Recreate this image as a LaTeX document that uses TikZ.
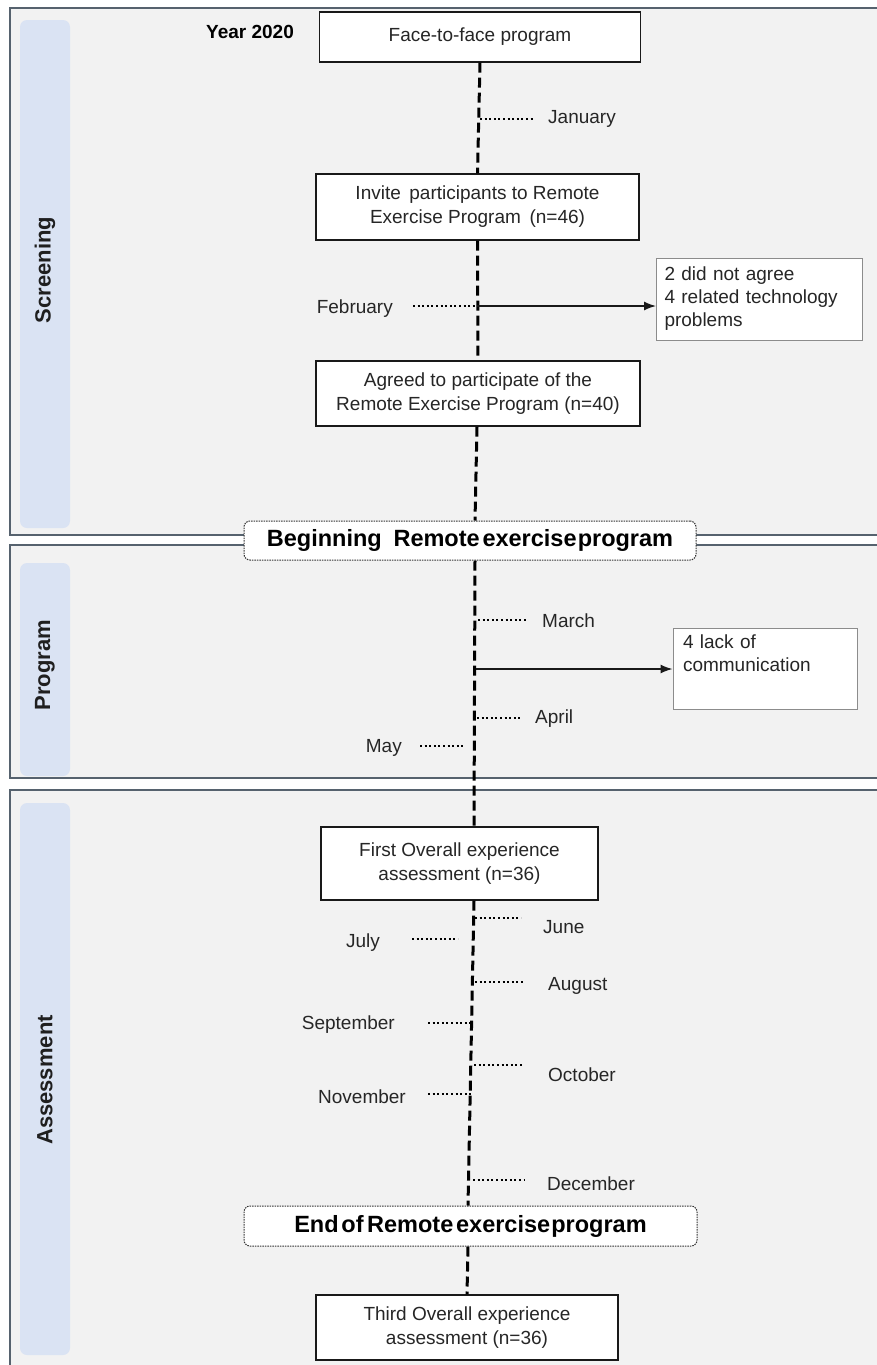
\documentclass[tikz,border=0pt]{standalone}
\usepackage{fontspec}
\setmainfont{Liberation Sans}
\usetikzlibrary{arrows.meta}
\definecolor{panelbg}{HTML}{F2F2F2}
\definecolor{panelline}{HTML}{56626E}
\definecolor{sidebarc}{HTML}{DAE3F3}
\definecolor{txt}{HTML}{262626}
\begin{document}
\begin{tikzpicture}[x=1pt,y=-1pt,
  panel/.style={fill=panelbg},
  panelborder/.style={draw=panelline, line width=1.2pt},
  sidebar/.style={fill=sidebarc, rounded corners=7pt},
  sidelabel/.style={rotate=90, font=\bfseries\fontsize{22}{26}\selectfont, text=black!88},
  box/.style={draw=black!90, line width=1.4pt, fill=white, align=center, text=txt,
    font=\fontsize{19}{24}\selectfont, inner sep=0pt},
  sidebox/.style={draw=black!45, line width=1pt, fill=white, align=left, text=txt,
    font=\fontsize{19}{23}\selectfont, inner sep=0pt, text width=190pt},
  milestone/.style={draw=black!80, dash pattern=on 1.5pt off 1pt, line width=1pt,
    rounded corners=6pt, fill=white, font=\bfseries\fontsize{23.5}{27}\selectfont,
    text=black, inner sep=0pt},
  month/.style={font=\fontsize{19}{23}\selectfont, text=txt, inner sep=0pt},
  tl/.style={line width=3pt, dash pattern=on 10pt off 5pt, black},
  tick/.style={line width=2.8pt, dash pattern=on 2pt off 2.6pt, black},
  arr/.style={line width=1.4pt, black!90, -{Latex[length=12pt,width=9pt]}}
]
\useasboundingbox (0,0) rectangle (877,1365);
% panels
\fill[panel] (10,8) rectangle (885,535);
\draw[panelborder] (885,8) -- (10,8) -- (10,535) -- (885,535);
\fill[panel] (10,545) rectangle (885,778);
\draw[panelborder] (885,545) -- (10,545) -- (10,778) -- (885,778);
\fill[panel] (10,790) rectangle (885,1375);
\draw[panelborder] (885,790) -- (10,790) -- (10,1375);
% sidebars
\fill[sidebar] (20,20) rectangle (70,528);
\fill[sidebar] (20,563) rectangle (70,776);
\fill[sidebar] (20,803) rectangle (70,1355);
\node[sidelabel] (lscr) at (45,270) {Screening};
\node[sidelabel] (lprg) at (45,665) {Program};
\node[sidelabel] (lass) at (45,1080) {Assessment};

% main nodes
\node[font=\bfseries\fontsize{19}{23}\selectfont, text=black] (year) at (250,32) {Year 2020};
\node[box, minimum width=321pt, minimum height=50pt] (face) at (480,37) {Face-to-face program};
\node[box, minimum width=323pt, minimum height=66pt] (invite) at (477.5,207)
  {Invite\hspace{0.45em}participants to Remote\\Exercise Program\hspace{0.45em}(n=46)};
\node[box, minimum width=324pt, minimum height=65pt] (agreed) at (478,393.5)
  {Agreed to participate of the\\Remote Exercise Program (n=40)};
\node[milestone, minimum width=452pt, minimum height=39pt] (begin) at (470,540.5)
  {Beginning\hspace{0.5em}Remote\hspace{0.12em}exercise\hspace{0.05em}program};
\node[box, minimum width=277pt, minimum height=73pt] (first) at (459.5,863.5)
  {First Overall experience\\assessment (n=36)};
\node[milestone, minimum width=453pt, minimum height=40pt] (endp) at (470.5,1226)
  {End\hspace{0.12em}of\hspace{0.15em}Remote\hspace{0.12em}exercise\hspace{0.05em}program};
\node[box, minimum width=302pt, minimum height=65pt] (third) at (467,1327.5)
  {Third Overall experience\\assessment (n=36)};

% side boxes
\node[sidebox, minimum width=205pt, minimum height=82pt, inner xsep=8pt] (dna) at (759.5,299)
  {2 did not agree\\4 related technology\\problems};
\node[sidebox, minimum width=184pt, minimum height=81pt, inner xsep=10pt, text width=164pt] (comm) at (765,668.5)
  {4 lack of\\communication\\\strut};

% timeline
\draw[tl] (face.south) -- (invite.north);
\draw[tl] (invite.south) -- (agreed.north);
\draw[tl] ([xshift=-1pt]agreed.south) -- ([xshift=5pt]begin.north);
\draw[tl] ([xshift=5pt]begin.south) -- ([xshift=14.5pt]first.north);
\draw[tl] ([xshift=14.5pt]first.south) -- ([xshift=-2.5pt]endp.north);
\draw[tl] ([xshift=-2.5pt]endp.south) -- (third.north);

% arrows
\coordinate (febA) at (477,306);
\coordinate (comA) at (476,669);
\draw[arr] (febA) -- (dna.west |- febA);
\draw[arr] (comA) -- (comm.west |- comA);

% months (right side)
\coordinate (jan1) at (480,119); \coordinate (jan2) at (535,119);
\draw[tick] (jan1) -- (jan2);
\node[month, anchor=west] (jan) at (548,119) {January};

\coordinate (mar1) at (478,620); \coordinate (mar2) at (528,620);
\draw[tick] (mar1) -- (mar2);
\node[month, anchor=west] (mar) at (542,621) {March};

\coordinate (apr1) at (477,718); \coordinate (apr2) at (520,718);
\draw[tick] (apr1) -- (apr2);
\node[month, anchor=west] (apr) at (535,719) {April};

\coordinate (jun1) at (475,918); \coordinate (jun2) at (521,918);
\draw[tick] (jun1) -- (jun2);
\node[month, anchor=west] (jun) at (543,927) {June};

\coordinate (aug1) at (475,982); \coordinate (aug2) at (524,982);
\draw[tick] (aug1) -- (aug2);
\node[month, anchor=west] (aug) at (548,986) {August};

\coordinate (oct1) at (474,1065); \coordinate (oct2) at (524,1065);
\draw[tick] (oct1) -- (oct2);
\node[month, anchor=west] (oct) at (548,1075) {October};

\coordinate (dec1) at (473,1180); \coordinate (dec2) at (524,1180);
\draw[tick] (dec1) -- (dec2);
\node[month, anchor=west] (dec) at (547,1184) {December};

% months (left side)
\coordinate (feb1) at (413,306);
\draw[tick] (feb1) -- (febA);
\node[month, anchor=east] (feb) at (393,309) {February};

\coordinate (may1) at (420,746); \coordinate (may2) at (463,746);
\draw[tick] (may1) -- (may2);
\node[month, anchor=east] (may) at (402,748) {May};

\coordinate (jul1) at (412,939); \coordinate (jul2) at (458,939);
\draw[tick] (jul1) -- (jul2);
\node[month, anchor=east] (jul) at (380,943) {July};

\coordinate (sep1) at (428,1023); \coordinate (sep2) at (472,1023);
\draw[tick] (sep1) -- (sep2);
\node[month, anchor=east] (sep) at (395,1025) {September};

\coordinate (nov1) at (428,1094); \coordinate (nov2) at (471,1094);
\draw[tick] (nov1) -- (nov2);
\node[month, anchor=east] (nov) at (406,1097) {November};
\end{tikzpicture}
\end{document}
